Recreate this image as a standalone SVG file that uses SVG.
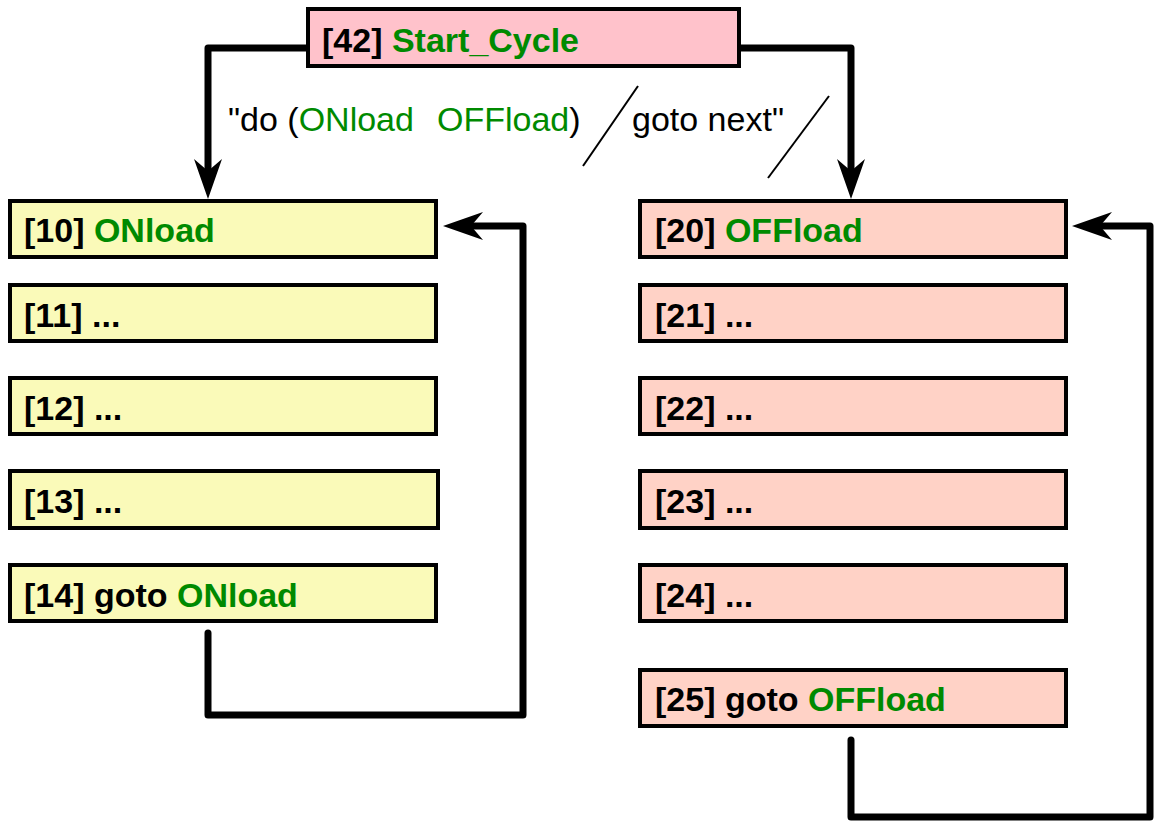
<svg xmlns="http://www.w3.org/2000/svg" width="1158" height="824" viewBox="0 0 1158 824">
  <style>
    .box { stroke: #000; stroke-width: 4; }
    .on { fill: #FAFAB9; }
    .off { fill: #FFD2C6; }
    .start { fill: #FFC2CB; }
    .lbl { font-family: "Liberation Sans", Arial, sans-serif; font-size: 34px; font-weight: bold; fill: #000; }
    .g { fill: #008A00; }
    .note { font-family: "Liberation Sans", Arial, sans-serif; font-size: 34px; fill: #000; }
    .wire { fill: none; stroke: #000; stroke-width: 7; stroke-linejoin: round; stroke-linecap: round; }
    .slash { stroke: #000; stroke-width: 2; }
  </style>
  <defs>
    <marker id="head" markerUnits="userSpaceOnUse" markerWidth="44" markerHeight="32" viewBox="0 -16 44 32" refX="14" refY="0" orient="auto" overflow="visible">
      <path d="M40,0 L0,-14 L12,0 L0,14 Z" fill="#000"/>
    </marker>
  </defs>
  <rect width="1158" height="824" fill="#fff"/>

  <!-- connectors -->
  <g id="connectors">
    <path class="wire" d="M308,48 H208 V173" marker-end="url(#head)"/>
    <path class="wire" d="M740,48 H851 V173" marker-end="url(#head)"/>
    <path class="wire" d="M208,633 V715 H523 V226 H469" marker-end="url(#head)"/>
    <path class="wire" d="M851,740 V817 H1150 V226 H1098" marker-end="url(#head)"/>
    <line class="slash" x1="638" y1="86" x2="583" y2="166"/>
    <line class="slash" x1="829" y1="96" x2="768" y2="178"/>
    <text class="note" x="228" y="131">"do (<tspan class="g">ONload</tspan></text>
    <text class="note" x="437" y="131"><tspan class="g">OFFload</tspan>)</text>
    <text class="note" x="632" y="131">goto next"</text>
  </g>

  <!-- start node -->
  <g id="n42">
    <rect class="box start" x="308" y="9" width="431" height="57"/>
    <text class="lbl" x="322" y="52">[42] <tspan class="g">Start_Cycle</tspan></text>
  </g>

  <!-- ONload sequence -->
  <g id="n10">
    <rect class="box on" x="10" y="201" width="426" height="56"/>
    <text class="lbl" x="24" y="242">[10] <tspan class="g">ONload</tspan></text>
  </g>
  <g id="n11">
    <rect class="box on" x="10" y="285" width="426" height="56"/>
    <text class="lbl" x="24" y="327">[11] ...</text>
  </g>
  <g id="n12">
    <rect class="box on" x="10" y="378" width="426" height="56"/>
    <text class="lbl" x="24" y="420">[12] ...</text>
  </g>
  <g id="n13">
    <rect class="box on" x="10" y="471" width="428" height="57"/>
    <text class="lbl" x="24" y="513">[13] ...</text>
  </g>
  <g id="n14">
    <rect class="box on" x="10" y="565" width="426" height="56"/>
    <text class="lbl" x="24" y="607">[14] goto <tspan class="g">ONload</tspan></text>
  </g>

  <!-- OFFload sequence -->
  <g id="n20">
    <rect class="box off" x="640" y="201" width="426" height="56"/>
    <text class="lbl" x="655" y="242">[20] <tspan class="g">OFFload</tspan></text>
  </g>
  <g id="n21">
    <rect class="box off" x="640" y="285" width="426" height="56"/>
    <text class="lbl" x="655" y="327">[21] ...</text>
  </g>
  <g id="n22">
    <rect class="box off" x="640" y="378" width="426" height="56"/>
    <text class="lbl" x="655" y="420">[22] ...</text>
  </g>
  <g id="n23">
    <rect class="box off" x="640" y="471" width="426" height="57"/>
    <text class="lbl" x="655" y="513">[23] ...</text>
  </g>
  <g id="n24">
    <rect class="box off" x="640" y="565" width="426" height="56"/>
    <text class="lbl" x="655" y="607">[24] ...</text>
  </g>
  <g id="n25">
    <rect class="box off" x="640" y="670" width="426" height="56"/>
    <text class="lbl" x="655" y="711">[25] goto <tspan class="g">OFFload</tspan></text>
  </g>
</svg>
